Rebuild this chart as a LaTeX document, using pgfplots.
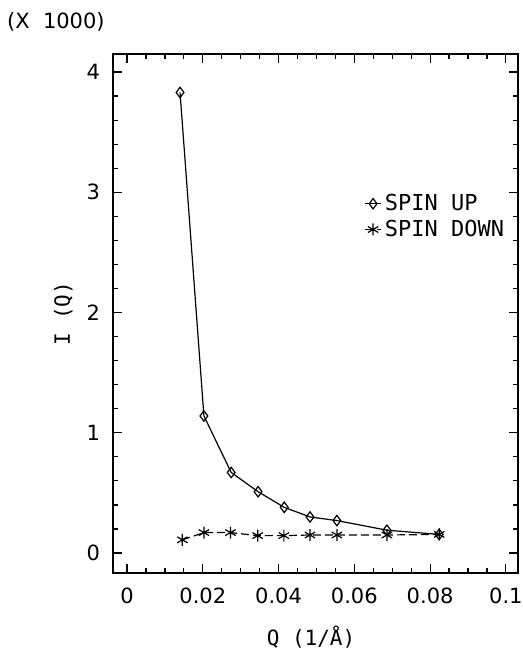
\documentclass[border=0pt]{standalone}
\usepackage{fontspec}
\setmainfont{DejaVu Sans}
\setmonofont{DejaVu Sans Mono}
\usepackage{pgfplots}
\pgfplotsset{compat=1.18}
\begin{document}
\begin{tikzpicture}
\begin{axis}[
  scale only axis, width=202.5pt, height=259.5pt,
  xmin=-0.0037, xmax=0.1032, ymin=-0.166, ymax=4.15,
  xtick={0,0.02,0.04,0.06,0.08,0.1},
  xticklabels={0,0.02,0.04,0.06,0.08,0.1},
  ytick={0,1,2,3,4}, yticklabels={0,1,2,3,4},
  minor x tick num=3, minor y tick num=4,
  tick align=inside, major tick length=4.5pt, minor tick length=2.5pt,
  xtick pos=both, ytick pos=both,
  tick style={black, line width=0.6pt},
  axis line style={line width=1pt},
  ticklabel style={font=\fontsize{10.5}{12}\selectfont},
  /pgf/number format/assume math mode=true,
  xticklabel shift=4pt, yticklabel shift=3pt,
  xlabel={Q (1/Å)},
  xlabel style={at={(axis description cs:0.489,-0.123)}, anchor=center, font=\ttfamily\fontsize{10.5}{12}\selectfont},
  ylabel={I (Q)},
  ylabel style={at={(axis description cs:-0.123,0.5)}, anchor=center, font=\ttfamily\fontsize{10.5}{12}\selectfont},
  legend style={draw=none, fill=none, at={(axis description cs:0.62,0.737)}, anchor=north west,
    font=\ttfamily\fontsize{11}{12}\selectfont, inner sep=0pt, nodes={inner sep=1.6pt}},
  legend cell align=left,
  legend image code/.code={\draw[mark repeat=2,mark phase=2,#1] plot coordinates {(0pt,0pt)(4pt,0pt)(8pt,0pt)};},
  clip=false,
]
\addplot[black, line width=0.6pt, mark=diamond, mark size=2.6pt, mark options={solid, fill=white}]
  coordinates {(0.0140,3.83) (0.0203,1.14) (0.0275,0.67) (0.0346,0.51) (0.0415,0.38) (0.0483,0.30) (0.0554,0.27) (0.0686,0.19) (0.0824,0.155)};
\addlegendentry{SPIN UP}
\addplot[black, line width=0.6pt, dash pattern=on 4pt off 2pt, mark=asterisk, mark size=3pt, mark options={solid}]
  coordinates {(0.0146,0.11) (0.0203,0.17) (0.0273,0.17) (0.0345,0.145) (0.0414,0.145) (0.0483,0.15) (0.0554,0.15) (0.0686,0.15) (0.0824,0.155)};
\addlegendentry{SPIN DOWN}
\node[font=\fontsize{10.5}{12}\selectfont] at (axis description cs:-0.141,1.062) {(X\ \ 1000)};
\end{axis}
\pgfresetboundingbox
\useasboundingbox ([shift={(-56.5pt,-38.5pt)}]current axis.south west) rectangle ([shift={(2.5pt,27pt)}]current axis.north east);
\end{tikzpicture}
\end{document}
